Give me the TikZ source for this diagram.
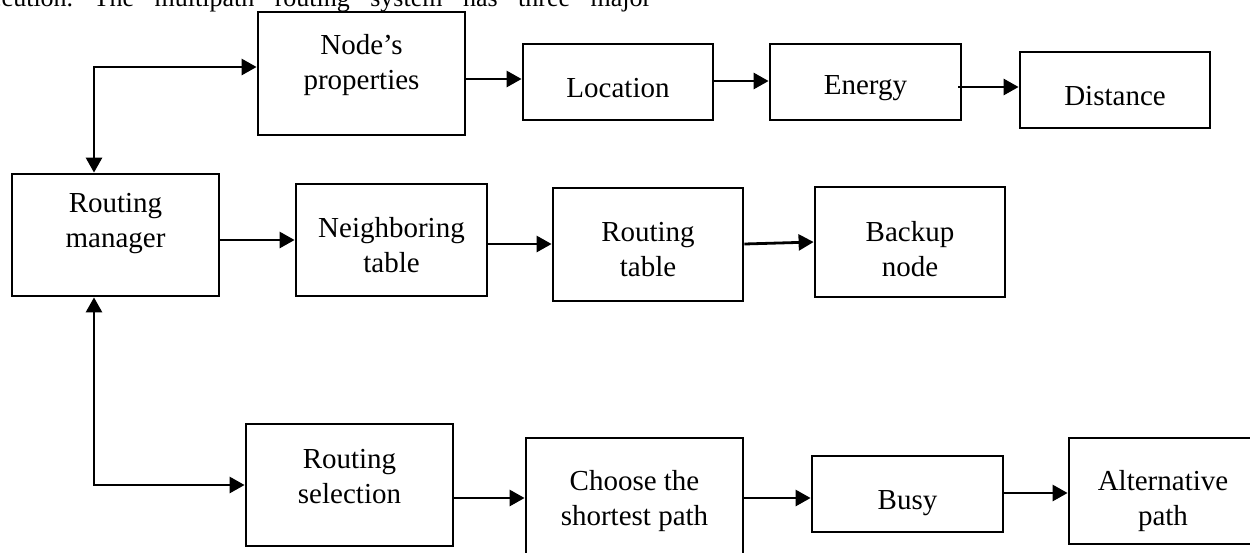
\documentclass[tikz,border=0pt]{standalone}
\usepackage{fontspec}
\setmainfont{Liberation Serif}
\usetikzlibrary{arrows.meta,calc}
\tikzset{
  blk/.style={draw, line width=2.8pt, inner sep=0pt, font=\fontsize{29}{35}\selectfont},
  link/.style={line width=2.8pt, -{Triangle[length=15pt,width=16pt]}},
  bothway/.style={line width=2.8pt, {Triangle[length=15pt,width=16pt]}-{Triangle[length=15pt,width=16pt]}},
  bodytext/.style={anchor=base west, inner sep=0pt, font=\fontsize{26}{31}\selectfont},
}
% width, height, extra space below the text (moves the text up), text
\newcommand{\boxtext}[4]{\parbox[c][#2][c]{#1}{\centering #4\par\vspace{#3}}}

\begin{document}
\begin{tikzpicture}[x=1pt,y=-1pt]
\path[use as bounding box] (0,0) rectangle (1250,552);
\fill[white] (0,0) rectangle (1250,552);
\clip (0,0) rectangle (1250,552);

% running text of the page above the figure
\node[bodytext] (para) at (-10,6.5)
  {\hbox to 661pt{ecution.\hfil The\hfil multipath\hfil routing\hfil system\hfil has\hfil three\hfil major}};

% top row
\node[blk] (np)  at (361.5,73.5) {\boxtext{207pt}{123pt}{16pt}{Node’s\\properties}};
\node[blk] (loc) at (618,82)     {\boxtext{190pt}{76pt}{-12pt}{Location}};
\node[blk] (en)  at (865.5,82)   {\boxtext{191pt}{76pt}{-13pt}{Energy}};
\node[blk] (dis) at (1115,90)    {\boxtext{190pt}{76pt}{-12pt}{Distance}};

% middle row
\node[blk] (rm)  at (115.5,235)  {\boxtext{207pt}{122pt}{23pt}{Routing\\manager}};
\node[blk] (nb)  at (391.5,240)  {\boxtext{191pt}{112pt}{-10pt}{Neighboring\\table}};
\node[blk] (rt)  at (648,244.5)  {\boxtext{190pt}{113pt}{-11pt}{Routing\\table}};
\node[blk] (bk)  at (910,242)    {\boxtext{190pt}{110pt}{-15pt}{Backup\\node}};

% bottom row
\node[blk] (rs)  at (349.5,485)  {\boxtext{207pt}{122pt}{17pt}{Routing\\selection}};
\node[blk] (ch)  at (634.5,501)  {\boxtext{217pt}{126pt}{0pt}{Choose the\\shortest path}};
\node[blk] (bu)  at (907.5,494)  {\boxtext{191pt}{76pt}{-19pt}{Busy}};
\node[blk] (alt) at (1163,491)   {\boxtext{188pt}{106pt}{-21pt}{Alternative\\path}};

% trunk on the left joining the manager to the other two rows
\coordinate (jt) at (94,67);
\draw[bothway] (rm.north -| jt) |- (np.west |- jt);
\draw[bothway] (rm.south -| jt) |- (rs.west);

% chains
\draw[link] (np.east |- 0,79) -- (loc.west |- 0,79);
\draw[link] (loc.east |- 0,81) -- (en.west |- 0,81);
\draw[link] ($(en.east)+(-4,5)$) -- (dis.west |- 0,87);

\draw[link] (rm.east |- 0,240) -- (nb.west |- 0,240);
\draw[link] (nb.east |- 0,244) -- (rt.west |- 0,244);
\draw[link] (rt.east |- 0,244) -- (bk.west |- 0,242);

\draw[link] (rs.east |- 0,498) -- (ch.west |- 0,498);
\draw[link] (ch.east |- 0,498) -- (bu.west |- 0,498);
\draw[link] (bu.east |- 0,493) -- (alt.west |- 0,493);
\end{tikzpicture}
\end{document}
